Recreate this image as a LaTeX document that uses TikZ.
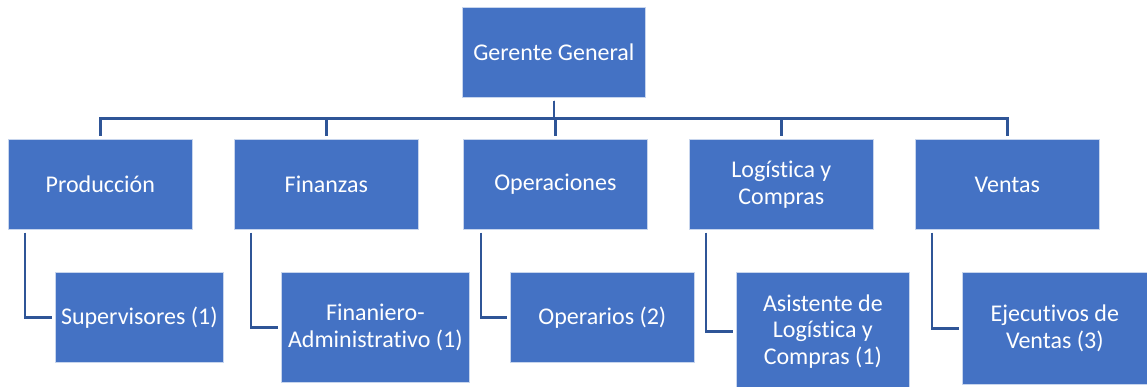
\documentclass[tikz,border=0pt]{standalone}
\usepackage{fontspec}
\setmainfont{Carlito}[Ligatures=NoCommon]
\definecolor{boxblue}{HTML}{4472C4}
\definecolor{linkblue}{HTML}{2F5597}
\begin{document}
\begin{tikzpicture}[x=1pt,y=-1pt,
  orgbox/.style={fill=boxblue, draw=white!70!boxblue, line width=0.7pt, text=white,
    align=center, inner sep=0pt, anchor=north west,
    font=\fontsize{24}{26.7}\selectfont},
  conn/.style={draw=linkblue, line width=2.6pt, shorten <=3pt, shorten >=3pt}]
\useasboundingbox (0,0) rectangle (1147,387);
\node[orgbox, minimum width=183pt, minimum height=90pt] (gg) at (462,7) {Gerente General};
\node[orgbox, minimum width=184pt, minimum height=89.5pt] (prod) at (8,139.5) {Producción};
\node[orgbox, minimum width=184pt, minimum height=89.5pt] (fin) at (234,139.5) {Finanzas};
\node[orgbox, minimum width=184pt, minimum height=89.5pt] (ope) at (463,139.5) {Operaciones};
\node[orgbox, minimum width=184pt, minimum height=89.5pt] (log) at (689,139.5) {Logística y\\Compras};
\node[orgbox, minimum width=184pt, minimum height=89.5pt] (ven) at (915,139.5) {Ventas};
\node[orgbox, minimum width=168pt, minimum height=90pt] (sup) at (55,272) {Supervisores (1)};
\node[orgbox, minimum width=188pt, minimum height=110pt] (fad) at (281,272) {Finaniero-\\Administrativo (1)};
\node[orgbox, minimum width=184pt, minimum height=90pt] (opr) at (510,272) {Operarios (2)};
\node[orgbox, minimum width=173pt, minimum height=118pt] (asi) at (736,272) {Asistente de\\Logística y\\Compras (1)};
\node[orgbox, minimum width=185pt, minimum height=112pt] (eje) at (962,272) {Ejecutivos de\\Ventas (3)};
% top level connectors
\foreach \c in {prod,fin,ope,log,ven}
  \draw[conn] (gg.south) -- ++(0,21) -| (\c.north);
% second level connectors
\coordinate (p1) at ([xshift=17pt]prod.south west);
\coordinate (p2) at ([xshift=17pt]fin.south west);
\coordinate (p3) at ([xshift=18pt]ope.south west);
\coordinate (p4) at ([xshift=17pt]log.south west);
\coordinate (p5) at ([xshift=17pt]ven.south west);
\draw[conn] (p1) |- (sup.west);
\draw[conn] (p2) |- (fad.west);
\draw[conn] (p3) |- (opr.west);
\draw[conn] (p4) |- (asi.west);
\draw[conn] (p5) |- (eje.west);
\end{tikzpicture}
\end{document}
